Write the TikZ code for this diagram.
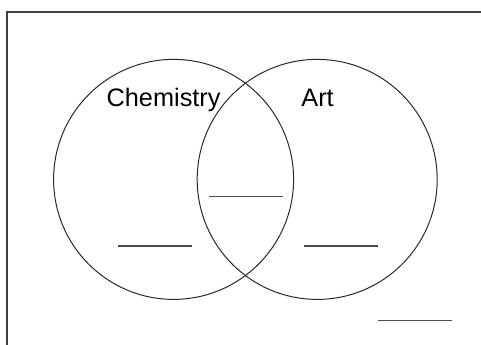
\documentclass[tikz,border=0pt]{standalone}
\usepackage{fontspec}
\setmainfont{Liberation Sans}
\usepackage{tikz}
\usetikzlibrary{positioning}

\tikzset{
    set/.style={draw=black!85, line width=0.7pt, circle, minimum size=6cm, inner sep=0pt},
    label/.style={anchor=base, font=\fontsize{18}{21}\selectfont},
    blank/.style={draw=black!70, line width=1pt}
}

\begin{document}
\begin{tikzpicture}
        \useasboundingbox (0,0) rectangle (12.025,8.625);
        \draw[black!75, line width=0.8pt] (0.175,0) -- (0.175,8.325) -- (12.025,8.325);

        \node[set] (chem) at (4.34,4.14) {};
        \node[set] (art) at (7.93,4.14) {};

        \node[label] (chemlabel) at (4.09,5.95) {Chemistry};
        \node[label] (artlabel) at (7.94,5.95) {Art};

        \draw[blank] (2.95,2.48) -- (4.80,2.48);
        \draw[blank] (5.23,3.71) -- (7.08,3.71);
        \draw[blank] (7.60,2.48) -- (9.45,2.48);
        \draw[blank] (9.45,0.61) -- (11.30,0.61);
    \end{tikzpicture}
\end{document}
